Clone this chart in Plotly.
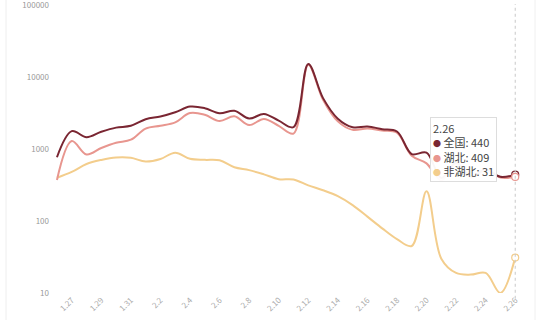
import plotly.graph_objects as go

dates = ["1.26", "1.27", "1.28", "1.29", "1.30", "1.31"] + [f"2.{d}" for d in range(1, 27)]
quanguo = [769, 1771, 1459, 1737, 1982, 2102, 2590, 2829, 3235, 3887, 3694, 3143, 3399, 2656, 3062, 2478,
           2015, 15152, 5090, 2641, 2009, 2048, 1886, 1749, 850, 889, 397, 648, 416, 518, 411, 440]
hubei = [371, 1291, 840, 1032, 1220, 1347, 1921, 2103, 2345, 3156, 2987, 2447, 2841, 2147, 2618, 2097,
         1638, 14840, 4823, 2420, 1843, 1933, 1807, 1693, 805, 631, 366, 630, 398, 499, 401, 409]
feihubei = [398, 480, 619, 705, 762, 755, 669, 726, 890, 731, 707, 696, 558, 509, 444, 381,
            377, 312, 267, 221, 166, 115, 79, 56, 45, 258, 30, 19, 18, 19, 10, 31]
names = ["全国", "湖北", "非湖北"]
colors = ["#7a2632", "#e8968f", "#f3cd8c"]
ytick_vals = [10, 100, 1000, 10000, 100000]
ytick_text = ["10", "100", "1000", "10000", "100000"]
xtick_labels = dates[1::2]

idx = list(range(len(dates)))
fig = go.Figure()
series = [quanguo, hubei, feihubei]
for k in [2, 1, 0]:
    fig.add_trace(go.Scatter(x=idx, y=series[k], mode="lines", name=names[k],
                             line=dict(color=colors[k], width=2, shape="spline", smoothing=1.0),
                             hoverinfo="skip"))
# hover markers at the last point
last = len(dates) - 1
fig.add_trace(go.Scatter(x=[last] * 3, y=[s[last] for s in series], mode="markers",
                         marker=dict(size=7, color="white", line=dict(color=colors, width=1.2)),
                         hoverinfo="skip"))

L, R, T, B = 50, 10, 4, 27
W, H = 540, 320
pw, ph = W - L - R, H - T - B

def px(xp):
    return (xp - L) / pw

def py(yp):
    return (H - B - yp) / ph

fig.add_shape(type="line", xref="x", yref="paper", x0=last, x1=last, y0=-0.02, y1=1.0,
              line=dict(color="#c8c8c8", width=1, dash="dot"))
fig.add_shape(type="line", xref="paper", yref="paper", x0=px(6), x1=px(6), y0=py(320), y1=py(0),
              line=dict(color="#eeeeee", width=1))
fig.add_shape(type="line", xref="paper", yref="paper", x0=px(535), x1=px(535), y0=py(320), y1=py(0),
              line=dict(color="#f0f0f0", width=1))

def dot(c):
    return f"<span style='color:{c};font-size:8px'>●</span>"

tip = (f"{dates[last]}<br>"
       f"{dot(colors[0])} {names[0]}: {quanguo[last]}<br>"
       f"{dot(colors[1])} {names[1]}: {hubei[last]}<br>"
       f"{dot(colors[2])} {names[2]}: {feihubei[last]}")
fig.add_annotation(xref="paper", yref="paper", x=px(430), y=py(117), xanchor="left", yanchor="top",
                   text=tip, showarrow=False, align="left",
                   font=dict(family="Noto Sans CJK SC", size=11, color="#444"),
                   bgcolor="rgba(255,255,255,0.96)", bordercolor="#dddddd", borderwidth=1, borderpad=2)

fig.update_layout(
    width=W, height=H, margin=dict(l=L, r=R, t=T, b=B),
    paper_bgcolor="white", plot_bgcolor="white", showlegend=False,
    font=dict(family="Noto Sans CJK SC", color="#aaaaaa", size=8),
    xaxis=dict(range=[-0.47, 32.0], tickmode="array", tickvals=idx[1::2], ticktext=xtick_labels,
               tickangle=-45, showgrid=False, zeroline=False, showline=False, ticks="",
               tickfont=dict(size=8, color="#aaaaaa"), automargin=False),
    yaxis=dict(type="log", range=[1, 5.014], tickmode="array", tickvals=ytick_vals, ticktext=ytick_text,
               showgrid=False, zeroline=False, showline=False, ticks="",
               ticklabeloverflow="allow",
               tickfont=dict(size=8, color="#999999"), automargin=False),
)
fig.write_html("out.html")
